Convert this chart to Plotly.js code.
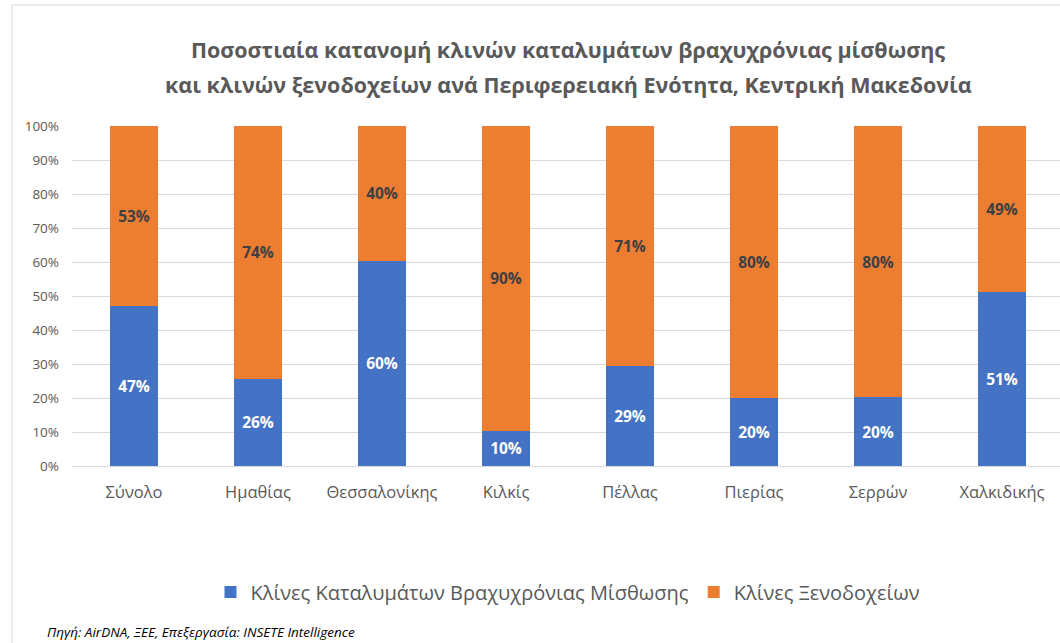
<!DOCTYPE html>
<html><head><meta charset="utf-8">
<script src="https://cdn.plot.ly/plotly-3.0.1.min.js"></script>
<style>html,body{margin:0;padding:0;overflow:hidden;background:#fff;width:1060px;height:643px}</style>
</head><body>
<div id="chart" style="width:1066px;height:643px"></div>
<script>
const categories = ["Σύνολο","Ημαθίας","Θεσσαλονίκης","Κιλκίς","Πέλλας","Πιερίας","Σερρών","Χαλκιδικής"];
const shortTerm = [47.1, 25.7, 60.4, 10.3, 29.4, 20.0, 20.2, 51.1];
const hotels = [52.9, 74.3, 39.6, 89.7, 70.6, 80.0, 79.8, 48.9];
const seriesNames = ["Κλίνες Καταλυμάτων Βραχυχρόνιας Μίσθωσης","Κλίνες Ξενοδοχείων"];
const yTicks = [0,10,20,30,40,50,60,70,80,90,100];
const titleLine1 = "Ποσοστιαία κατανομή κλινών καταλυμάτων βραχυχρόνιας μίσθωσης";
const titleLine2 = "και κλινών ξενοδοχείων ανά Περιφερειακή Ενότητα, Κεντρική Μακεδονία";
const sourceText = "Πηγή: AirDNA, ΞΕΕ, Επεξεργασία: INSETE Intelligence";

const font = "Open Sans, Noto Sans, sans-serif";
const titleFont = {family:font, size:21.5, color:"#595959", weight:"bold"};
const traces = [
  {type:"bar", name:seriesNames[0], x:categories, y:shortTerm,
   marker:{color:"#4472c4"}, text:shortTerm.map(v=>Math.round(v)+"%"),
   textposition:"inside", insidetextanchor:"middle", textangle:0,
   textfont:{color:"#ffffff", size:15.5, family:font, weight:"bold"}, hoverinfo:"none"},
  {type:"bar", name:seriesNames[1], x:categories, y:hotels,
   marker:{color:"#ed7d31"}, text:hotels.map(v=>Math.round(v)+"%"),
   textposition:"inside", insidetextanchor:"middle", textangle:0,
   textfont:{color:"#404040", size:15.5, family:font, weight:"bold"}, hoverinfo:"none"}
];
const layout = {
  width:1066, height:643,
  margin:{l:72, r:2, t:126, b:177},
  barmode:"stack", bargap:0.605,
  paper_bgcolor:"#fff", plot_bgcolor:"#fff",
  font:{family:font, color:"#595959"},
  title:{text:titleLine1, x:0.5, xref:"paper", xanchor:"center", y:1-50/643, yref:"container", yanchor:"middle",
         font:titleFont},
  xaxis:{tickfont:{size:16.5, color:"#595959"}, showgrid:false, showline:false, ticks:"", ticklabelstandoff:14, automargin:false},
  yaxis:{range:[0,100], tickvals:yTicks, ticktext:yTicks.map(v=>v+"%"), tickfont:{size:13.5, color:"#595959"},
         gridcolor:"#d9d9d9", gridwidth:1, zeroline:true, zerolinecolor:"#d9d9d9", showline:false, ticks:"", ticklabelstandoff:12, automargin:false},
  legend:{orientation:"h", x:0.5, xanchor:"center", y:(466-592)/340, yanchor:"middle",
          font:{size:20, color:"#595959"}, itemwidth:30, traceorder:"normal"},
  annotations:[
    {text:titleLine2, xref:"paper", yref:"paper", x:0.5, y:(466-84)/340, xanchor:"center", yanchor:"middle",
     showarrow:false, font:titleFont},
    {text:"<i>"+sourceText+"</i>", xref:"paper", yref:"paper", x:(45-72)/992, y:(466-632)/340,
     xanchor:"left", yanchor:"middle", showarrow:false, font:{size:13.5, color:"#000"}}],
  shapes:[{type:"rect", xref:"paper", yref:"paper", x0:(12-72)/992, x1:1.05, y0:-0.6, y1:(466-5)/340,
           line:{color:"#d9d9d9", width:1}, fillcolor:"rgba(0,0,0,0)", layer:"below"}]
};
Plotly.newPlot("chart", traces, layout, {displayModeBar:false, staticPlot:true});
</script>
</body></html>
